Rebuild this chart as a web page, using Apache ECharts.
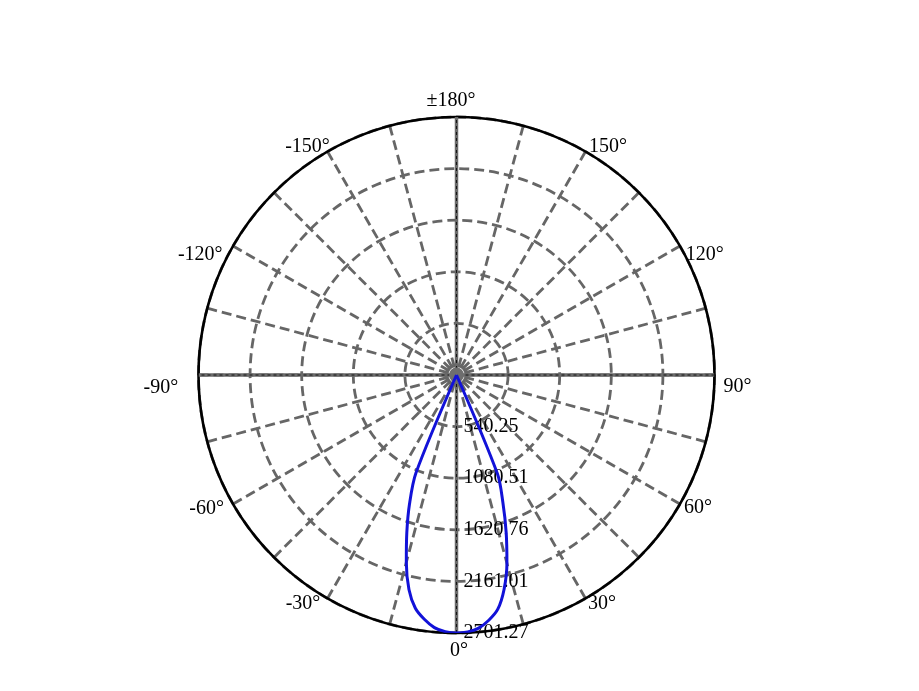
<!DOCTYPE html>
<html><head><meta charset="utf-8">
<script src="https://cdn.jsdelivr.net/npm/echarts@6/dist/echarts.min.js"></script>
<style>html,body{margin:0;padding:0;background:#fff}#c{width:919px;height:691px}</style>
</head><body><div id="c"></div>
<script>
// polar angles in degrees (0 = down, positive to the right)
const angles = [-25, -22.5, -20, -17.5, -15, -12.5, -10, -7.5, -5, -2.5, 0, 2.5, 5, 7.5, 10, 12.5, 15, 17.5, 20, 22.5, 25];
const intensity = [0, 1110, 1440, 1730, 2030, 2300, 2480, 2580, 2655, 2690, 2701.27, 2692, 2660, 2590, 2490, 2300, 2040, 1730, 1420, 1120, 0];
const angleTicks = [0, 30, 60, 90, 120, 150, 180, -150, -120, -90, -60, -30];
const angleLabels = ['0°', '30°', '60°', '90°', '120°', '150°', '±180°', '-150°', '-120°', '-90°', '-60°', '-30°'];
const radiusLabels = ['', '540.25', '1080.51', '1620.76', '2161.01', '2701.27'];
const radiusMax = 2701.27;
const crossPairs = [[0, 180], [90, 270]];

// styling: pixel nudges of each angle label from its point on the rim
const labelNudge = {
  '0': [2.5, 18], '30': [16.5, 5.6], '60': [18, 4], '90': [23, 11.5], '120': [24.8, 9], '150': [22.5, -4.9],
  '180': [-5.5, -16.5], '-150': [-20, -4.9], '-120': [-32.8, 9], '-90': [-37.7, 12.5], '-60': [-26.4, 4.3], '-30': [-24.5, 5]
};

const FONT = "'Liberation Serif', 'Times New Roman', serif";
const toAxisAngle = a => (a < 0 ? 360 + a : a);
const curve = angles.map((a, i) => [intensity[i], toAxisAngle(a)]);

const series = [];
crossPairs.forEach(p => {
  const d = [[radiusMax, p[0]], [0, p[0]], [radiusMax, p[1]]];
  series.push({type: 'line', coordinateSystem: 'polar', data: d, symbol: 'none', silent: true, z: 1,
    lineStyle: {color: '#6a6a6a', width: 3.5, type: 'solid'}});
  series.push({type: 'line', coordinateSystem: 'polar', data: d, symbol: 'none', silent: true, z: 1,
    lineStyle: {color: '#000', width: 0.8, type: [3, 3]}});
});
// hub where the dashed spokes converge
series.push({type: 'scatter', coordinateSystem: 'polar', data: [[0, 0]], symbol: 'circle', symbolSize: 15,
  silent: true, z: 4, itemStyle: {color: '#6e6e6e', opacity: 1}});
series.push({type: 'line', coordinateSystem: 'polar', data: curve, symbol: 'none', z: 5, smooth: 0.3,
  lineStyle: {color: '#1212d8', width: 3}});
series.push({
  type: 'scatter', coordinateSystem: 'polar', symbolSize: 0, silent: true, z: 6,
  itemStyle: {opacity: 1},
  data: angleTicks.map((a, i) => ({
    value: [radiusMax, toAxisAngle(a)],
    label: {offset: labelNudge[String(a)]}
  })),
  label: {
    show: true, position: 'inside', align: 'center', verticalAlign: 'middle', opacity: 1,
    color: '#000', fontSize: 20, fontFamily: FONT,
    formatter: p => angleLabels[p.dataIndex]
  }
});

const chart = echarts.init(document.getElementById('c'), null, {renderer: 'canvas'});
chart.setOption({
  animation: false,
  backgroundColor: '#fff',
  polar: {center: [456.5, 375], radius: 258},
  angleAxis: {
    type: 'value', min: 0, max: 360, interval: 15, startAngle: 270, clockwise: false,
    axisLine: {show: true, lineStyle: {color: '#000', width: 2.6}},
    axisTick: {show: false},
    axisLabel: {show: false},
    splitLine: {show: true, lineStyle: {color: '#666', width: 2.8, type: [10, 5]}}
  },
  radiusAxis: {
    type: 'value', min: 0, max: radiusMax, interval: radiusMax / 5,
    axisLine: {show: false},
    axisTick: {show: false},
    axisLabel: {
      show: true, margin: 7, color: '#000', fontSize: 20, fontFamily: FONT,
      formatter: (v, i) => (radiusLabels[i] !== undefined ? radiusLabels[i] : '')
    },
    splitLine: {show: true, lineStyle: {color: '#666', width: 2.8, type: [10, 5]}}
  },
  series: series
});
</script></body></html>
